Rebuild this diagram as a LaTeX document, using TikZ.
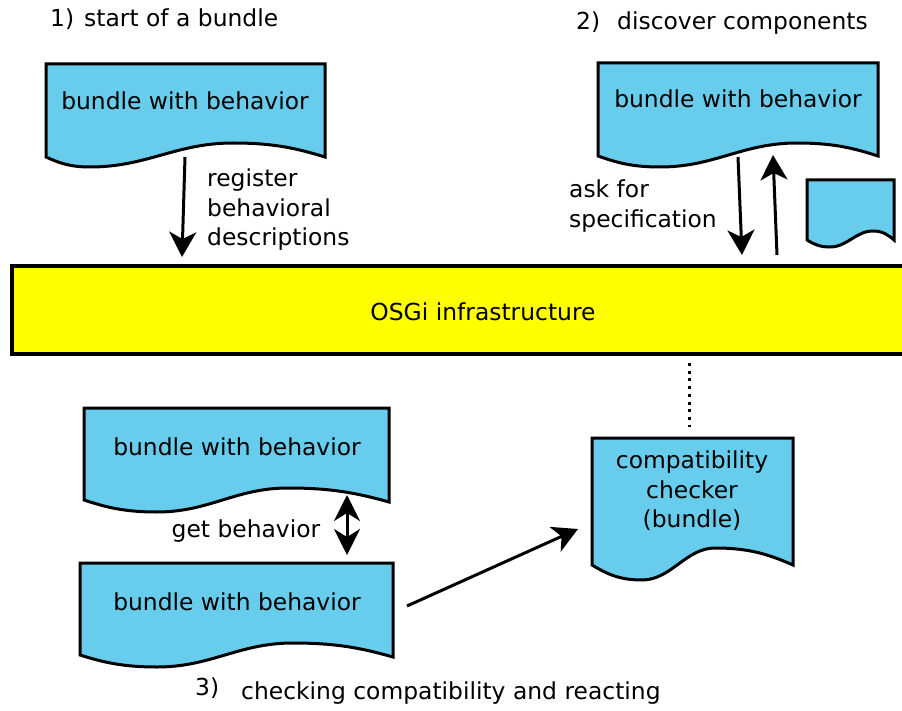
\documentclass[tikz,border=0pt]{standalone}
\usepackage{fontspec}
\setmainfont{DejaVu Sans}
\usetikzlibrary{arrows.meta}
\definecolor{bundleblue}{RGB}{104,204,236}
\definecolor{osgiyellow}{RGB}{255,255,0}
% doc shape: x0, ytop, x1, yleftbottom, yrightbottom, troughx, troughy, peakx, peaky
\newcommand\docpath[9]{%
 (#1,#2) -- (#3,#2) -- (#3,#5)
 .. controls ({#3-0.3*(#3-#8)},{#5-0.6*(#5-#9)}) and ({#8+0.45*(#3-#8)},#9) .. (#8,#9)
 .. controls ({#8-0.4*(#8-#6)},#9) and ({#6+0.4*(#8-#6)},#7) .. (#6,#7)
 .. controls ({#6-0.45*(#6-#1)},#7) and ({#1+0.3*(#6-#1)},{#4+0.6*(#7-#4)}) .. (#1,#4) -- cycle}
\begin{document}
\begin{tikzpicture}[x=1pt,y=-1pt,
  txt/.style={inner sep=0pt,font=\fontsize{23.4}{29.5}\selectfont},
  docbox/.style={draw=black,line width=3pt,fill=bundleblue,line join=miter},
  arr/.style={line width=3pt,-{Stealth[length=25pt,width=27pt,inset=7pt]}},
  darr/.style={line width=3pt,{Stealth[length=26pt,width=26pt,inset=8pt]}-{Stealth[length=26pt,width=26pt,inset=8pt]}},
  dots/.style={line width=3pt,dash pattern=on 3pt off 4.7pt}
]
\useasboundingbox (0,0) rectangle (902,711);
\fill[white] (0,0) rectangle (902,711);

% titles
\node[txt,anchor=base west] (t1n) at (50,27) {1)};
\node[txt,anchor=base west] (t1) at (84,27) {start of a bundle};
\node[txt,anchor=base west] (t2n) at (576,30) {2)};
\node[txt,anchor=base west] (t2) at (617,30) {discover components};
\node[txt,anchor=base west] (t3n) at (195,695) {3)};
\node[txt,anchor=base west] (t3) at (241,699) {checking compatibility and reacting};

% OSGi bar
\draw[line width=4pt,fill=osgiyellow] (12,266) rectangle (915,354);
\node[txt] (osgi) at (483,312) {OSGi infrastructure};

% documents
\draw[docbox] \docpath{46}{64}{325}{157}{157}{90}{167}{233}{143};
\node[txt,anchor=base] (b1) at (185,110) {bundle with behavior};

\draw[docbox] \docpath{598}{63}{878}{156}{156}{660}{167}{797}{143};
\node[txt,anchor=base] (b2) at (738,108) {bundle with behavior};

\draw[docbox] \docpath{807}{180}{894}{240}{240}{830}{247}{873}{231};

\draw[docbox] \docpath{84}{408}{389}{500}{502}{157}{512}{288}{488};
\node[txt,anchor=base] (b3) at (237,455) {bundle with behavior};

\draw[docbox] \docpath{80}{563}{393}{655}{657}{157}{667}{293}{643};
\node[txt,anchor=base] (b4) at (237,610) {bundle with behavior};

\draw[docbox] \docpath{592}{438}{793}{565}{565}{642}{580}{715}{548};
\node[txt,align=center] (cc) at (692,491) {compatibility\\checker\\(bundle)};

% labels
\node[txt,align=left,anchor=west] (l1) at (207,210) {register\\behavioral\\descriptions};
\node[txt,align=left,anchor=west] (l2) at (569,206) {ask for\\specification};
\node[txt,anchor=base] (l3) at (246,537) {get behavior};

% connector end points
\coordinate (a1s) at (185,157);
\coordinate (a1e) at (182,257);
\coordinate (a2s) at (738,157);
\coordinate (a2e) at (742,255);
\coordinate (a3s) at (777,255);
\coordinate (a3e) at (773,155);
\coordinate (a4s) at (347,495);
\coordinate (a4e) at (347,555);
\coordinate (a5s) at (407,606);
\coordinate (a5e) at (578,529);
\coordinate (d1s) at (689,363);
\coordinate (d1e) at (689,427);

\draw[arr] (a1s) -- (a1e);
\draw[arr] (a2s) -- (a2e);
\draw[arr] (a3s) -- (a3e);
\draw[darr] (a4s) -- (a4e);
\draw[arr] (a5s) -- (a5e);
\draw[dots] (d1s) -- (d1e);
\end{tikzpicture}
\end{document}
